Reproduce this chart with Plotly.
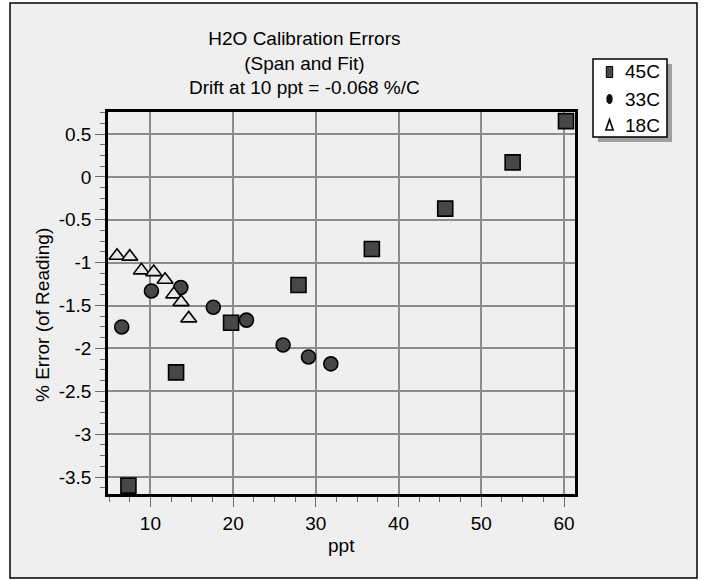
import plotly.graph_objects as go

# Calibration error readings (ppt vs % error of reading) at three temperatures
x_45c = [7.34, 13.10, 19.75, 27.90, 36.77, 45.64, 53.79, 60.24]
y_45c = [-3.60, -2.28, -1.70, -1.26, -0.84, -0.37, 0.17, 0.65]

x_33c = [6.53, 10.12, 13.67, 17.60, 21.61, 26.04, 29.11, 31.81]
y_33c = [-1.75, -1.33, -1.29, -1.52, -1.67, -1.96, -2.10, -2.18]

x_18c = [5.96, 7.50, 8.91, 10.40, 11.77, 12.82, 13.70, 14.63]
y_18c = [-0.92, -0.93, -1.09, -1.11, -1.20, -1.37, -1.46, -1.65]

series_names = ["45C", "33C", "18C"]

x_tick_vals = [10, 20, 30, 40, 50, 60]
x_tick_text = ["10", "20", "30", "40", "50", "60"]
y_tick_vals = [0.5, 0, -0.5, -1, -1.5, -2, -2.5, -3, -3.5]
y_tick_text = ["0.5", "0", "-0.5", "-1", "-1.5", "-2", "-2.5", "-3", "-3.5"]

title_lines = ["H2O Calibration Errors", "(Span and Fit)", "Drift at 10 ppt = -0.068 %/C"]
x_title = "ppt"
y_title = "% Error (of Reading)"

FONT = "Liberation Sans, Arial, Helvetica, sans-serif"
BG = "#efefef"
DARK = "#474747"
LIGHT = "#e6e6e6"
W, H = 704, 580
ML, MR, MT, MB = 108, 129, 112, 86
PW, PH = W - ML - MR, H - MT - MB


def px_to_paper_x(px):
    return (px - ML) / PW


def px_to_paper_y(py):
    return (H - MB - py) / PH


fig = go.Figure()

fig.add_trace(go.Scatter(
    x=x_45c, y=y_45c, mode="markers", name=series_names[0],
    cliponaxis=False, showlegend=False,
    marker=dict(symbol="square", size=15, color=DARK,
                line=dict(color="#000000", width=1.6)),
))
fig.add_trace(go.Scatter(
    x=x_33c, y=y_33c, mode="markers", name=series_names[1],
    cliponaxis=False, showlegend=False,
    marker=dict(symbol="circle", size=14, color=DARK,
                line=dict(color="#000000", width=1.6)),
))
fig.add_trace(go.Scatter(
    x=x_18c, y=y_18c, mode="markers", name=series_names[2],
    cliponaxis=False, showlegend=False,
    marker=dict(symbol="triangle-up", size=14, color=LIGHT,
                line=dict(color="#000000", width=1.6)),
))

shapes = []

# outer frame around the whole chart
shapes.append(dict(type="rect", xref="paper", yref="paper", layer="below",
                   x0=px_to_paper_x(10), x1=px_to_paper_x(697),
                   y0=px_to_paper_y(578), y1=px_to_paper_y(3),
                   fillcolor=BG, line=dict(color="#000000", width=1.5)))

# key box: shadow, then white box with border
LEG_L, LEG_T, LEG_R, LEG_B = 593, 59, 667, 137
shapes.append(dict(type="rect", xref="paper", yref="paper", layer="above",
                   x0=px_to_paper_x(LEG_L + 5), x1=px_to_paper_x(LEG_R + 5),
                   y0=px_to_paper_y(LEG_B + 5), y1=px_to_paper_y(LEG_T + 5),
                   fillcolor="#a0a0a0", line=dict(width=0)))
shapes.append(dict(type="rect", xref="paper", yref="paper", layer="above",
                   x0=px_to_paper_x(LEG_L), x1=px_to_paper_x(LEG_R),
                   y0=px_to_paper_y(LEG_B), y1=px_to_paper_y(LEG_T),
                   fillcolor="#ffffff", line=dict(color="#000000", width=1.5)))

# key symbols (small upright glyph-like shapes)
row_y = [72, 99, 125]
sym_x = 609.5
shapes.append(dict(type="rect", xref="paper", yref="paper", layer="above",
                   x0=px_to_paper_x(sym_x - 3.2), x1=px_to_paper_x(sym_x + 3.2),
                   y0=px_to_paper_y(row_y[0] + 5.5), y1=px_to_paper_y(row_y[0] - 5.5),
                   fillcolor=DARK, line=dict(color="#000000", width=1)))
shapes.append(dict(type="circle", xref="paper", yref="paper", layer="above",
                   x0=px_to_paper_x(sym_x - 2.6), x1=px_to_paper_x(sym_x + 2.6),
                   y0=px_to_paper_y(row_y[1] + 4.5), y1=px_to_paper_y(row_y[1] - 4.5),
                   fillcolor="#111111", line=dict(color="#000000", width=1)))
tri = [(sym_x, row_y[2] - 5.5), (sym_x - 3.6, row_y[2] + 5), (sym_x + 3.6, row_y[2] + 5)]
tri_path = "M {:.5f} {:.5f} L {:.5f} {:.5f} L {:.5f} {:.5f} Z".format(
    px_to_paper_x(tri[0][0]), px_to_paper_y(tri[0][1]),
    px_to_paper_x(tri[1][0]), px_to_paper_y(tri[1][1]),
    px_to_paper_x(tri[2][0]), px_to_paper_y(tri[2][1]))
shapes.append(dict(type="path", xref="paper", yref="paper", layer="above",
                   path=tri_path, fillcolor="#ffffff",
                   line=dict(color="#000000", width=1.6)))

axis_common = dict(
    showline=True, linecolor="#000000", linewidth=2.5, mirror=True,
    showgrid=True, gridcolor="#8c8c8c", gridwidth=1.5,
    zeroline=False,
    ticks="outside", ticklen=10, tickwidth=1, tickcolor="#6a6a6a",
    tickfont=dict(family=FONT, size=19, color="#000000"),
)

fig.update_xaxes(
    range=[4.87, 61.33], tickmode="array",
    tickvals=x_tick_vals, ticktext=x_tick_text,
    minor=dict(dtick=2.5, tick0=0, ticks="outside", ticklen=5,
               tickcolor="#6a6a6a", showgrid=False),
    **axis_common,
)
fig.update_yaxes(
    range=[-3.698, 0.757], tickmode="array",
    tickvals=y_tick_vals, ticktext=y_tick_text,
    minor=dict(dtick=0.125, tick0=0, ticks="outside", ticklen=5,
               tickcolor="#6a6a6a", showgrid=False),
    **axis_common,
)

annotations = [
    dict(text="<br>".join(title_lines), xref="paper", yref="paper",
         x=px_to_paper_x(304), y=px_to_paper_y(63), xanchor="center",
         yanchor="middle", showarrow=False, align="center",
         font=dict(family=FONT, size=19, color="#000000")),
    dict(text=x_title, xref="paper", yref="paper",
         x=px_to_paper_x(341), y=px_to_paper_y(545), xanchor="center",
         yanchor="middle", showarrow=False,
         font=dict(family=FONT, size=19, color="#000000")),
    dict(text=y_title, xref="paper", yref="paper", textangle=-90,
         x=px_to_paper_x(42), y=px_to_paper_y(315), xanchor="center",
         yanchor="middle", showarrow=False,
         font=dict(family=FONT, size=19, color="#000000")),
]
for name, ry in zip(series_names, row_y):
    annotations.append(dict(
        text=name, xref="paper", yref="paper",
        x=px_to_paper_x(623), y=px_to_paper_y(ry),
        xanchor="left", yanchor="middle", showarrow=False,
        font=dict(family=FONT, size=19, color="#000000")))

fig.update_layout(
    width=W, height=H,
    margin=dict(l=ML, r=MR, t=MT, b=MB, pad=0),
    paper_bgcolor="#ffffff", plot_bgcolor=BG,
    showlegend=False,
    shapes=shapes,
    annotations=annotations,
)

fig.write_html("out.html")
